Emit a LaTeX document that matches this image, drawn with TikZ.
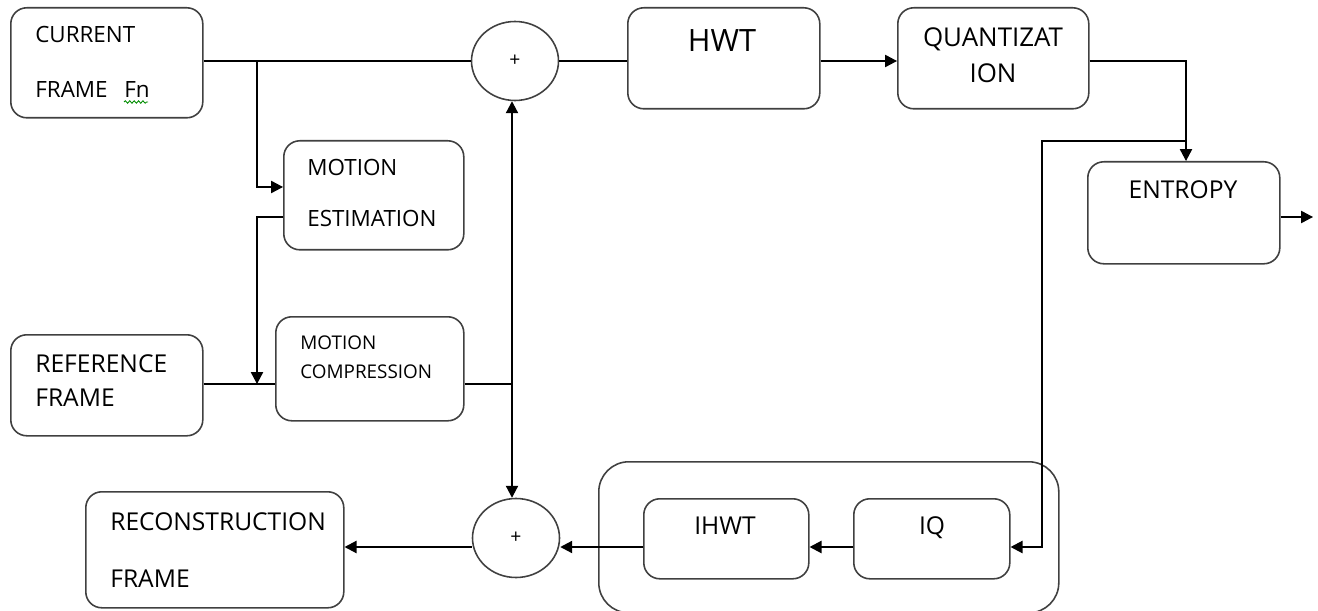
\documentclass[tikz,border=0pt]{standalone}
\usepackage{fontspec}
\setmainfont{Open Sans}
\usetikzlibrary{arrows.meta,shapes.geometric,decorations.pathmorphing}

\tikzset{
	block/.style = {draw = black!75, line width = 0.9pt, rounded corners = 0.32cm, anchor = north west, inner sep = 0pt},
	sum/.style = {draw = black!75, line width = 0.9pt, ellipse, minimum width = 87*0.02cm, minimum height = 79*0.02cm, inner sep = 0pt, font = \fontsize{11}{13}\selectfont},
	txt/.style = {anchor = base west, inner sep = 0pt, font = \fontsize{12.75}{15}\selectfont},
	bigtxt/.style = {txt, font = \fontsize{14}{17}\selectfont},
	ctxt/.style = {bigtxt, anchor = base},
	smalltxt/.style = {txt, font = \fontsize{10.75}{13}\selectfont},
	wire/.style = {line width = 0.75pt},
	arr/.style = {wire, -{Triangle[length = 6.8pt, width = 7pt]}},
	squiggle/.style = {draw = green!55!black, line width = 0.5pt, decorate, decoration = {snake, segment length = 2.5pt, amplitude = 0.7pt}},
}
\newcommand{\blockNode}[5]{
	\node[block, minimum width = #4*0.02cm, minimum height = #5*0.02cm] (#1) at (#2, #3) {};
}

\begin{document}
\begin{tikzpicture}[x = 0.02cm, y = -0.02cm]
		\useasboundingbox (0, 0) rectangle (1318, 611);

		% blocks
		\blockNode{cur}{10}{7}{192}{110}
		\blockNode{me}{283}{140}{180}{109}
		\blockNode{ref}{10}{334}{192}{101}
		\blockNode{mc}{275}{316}{188}{104}
		\blockNode{hwt}{627}{7}{192}{101}
		\blockNode{quant}{897}{7}{191}{101}
		\blockNode{ent}{1087}{161}{192}{102}
		\blockNode{rec}{85}{491}{258}{116}
		\node[block, rounded corners = 0.6cm, minimum width = 460*0.02cm, minimum height = 151*0.02cm] (loop) at (598, 461) {};
		\blockNode{ihwt}{643}{498}{165}{80}
		\blockNode{iq}{853}{498}{156}{80}

		% adders
		\node[sum] (sumTop) at (515, 61) {+};
		\node[sum] (sumBot) at (516, 538) {+};

		% texts
		\node[txt] (curA) at (35, 43) {CURRENT};
		\node[txt] (curB) at (35, 98) {FRAME\hspace{0.75em}Fn};
		\draw[squiggle] (124, 102) -- (148, 102);
		\node[txt] (meA) at (307, 176) {MOTION};
		\node[txt] (meB) at (307, 227) {ESTIMATION};
		\node[bigtxt] (refA) at (35, 372) {REFERENCE};
		\node[bigtxt] (refB) at (35, 406) {FRAME};
		\node[smalltxt] (mcA) at (300, 349) {MOTION};
		\node[smalltxt] (mcB) at (300, 378) {COMPRESSION};
		\node[ctxt, font = \fontsize{17.5}{21}\selectfont] (hwtT) at (722, 52) {HWT};
		\node[ctxt, font = \fontsize{14.75}{18}\selectfont] (quantA) at (993, 47) {QUANTIZAT};
		\node[ctxt, font = \fontsize{14.75}{18}\selectfont] (quantB) at (993, 83) {ION};
		\node[ctxt] (entT) at (1183, 199) {ENTROPY};
		\node[bigtxt] (recA) at (110, 530) {RECONSTRUCTION};
		\node[bigtxt] (recB) at (110, 587) {FRAME};
		\node[ctxt] (ihwtT) at (725, 534) {IHWT};
		\node[ctxt] (iqT) at (932, 534) {IQ};

		% wiring
		\coordinate (topY) at (0, 61);
		\coordinate (lowY) at (0, 547);
		\coordinate (meIn) at (0, 187);
		\coordinate (meOut) at (0, 217);
		\coordinate (brA) at (257, 61);
		\coordinate (brB) at (257, 384);
		\coordinate (bus) at (512, 384);
		\coordinate (fbA) at (1186, 141);
		\coordinate (fbB) at (1042, 141);
		\coordinate (out) at (1313, 217);

		\draw[wire] (cur.east |- topY) -- (sumTop.west);
		\draw[arr] (brA) |- (me.west |- meIn);
		\draw[arr] (me.west |- meOut) -| (brB);
		\draw[wire] (ref.east |- bus) -- (mc.west |- bus);
		\draw[wire] (mc.east |- bus) -- (bus);
		\draw[arr] (bus) -- (bus |- sumTop.south);
		\draw[arr] (bus) -- (bus |- sumBot.north);
		\draw[wire] (sumTop.east) -- (hwt.west |- topY);
		\draw[arr] (hwt.east |- topY) -- (quant.west |- topY);
		\draw[arr] (quant.east |- topY) -| (fbA |- ent.north);
		\draw[arr] (fbA) -- (fbB) |- (iq.east |- lowY);
		\draw[arr] (iq.west |- lowY) -- (ihwt.east |- lowY);
		\draw[arr] (ihwt.west |- lowY) -- (sumBot.east |- lowY);
		\draw[arr] (sumBot.west |- lowY) -- (rec.east |- lowY);
		\draw[arr] (ent.east |- out) -- (out);
	\end{tikzpicture}
\end{document}
